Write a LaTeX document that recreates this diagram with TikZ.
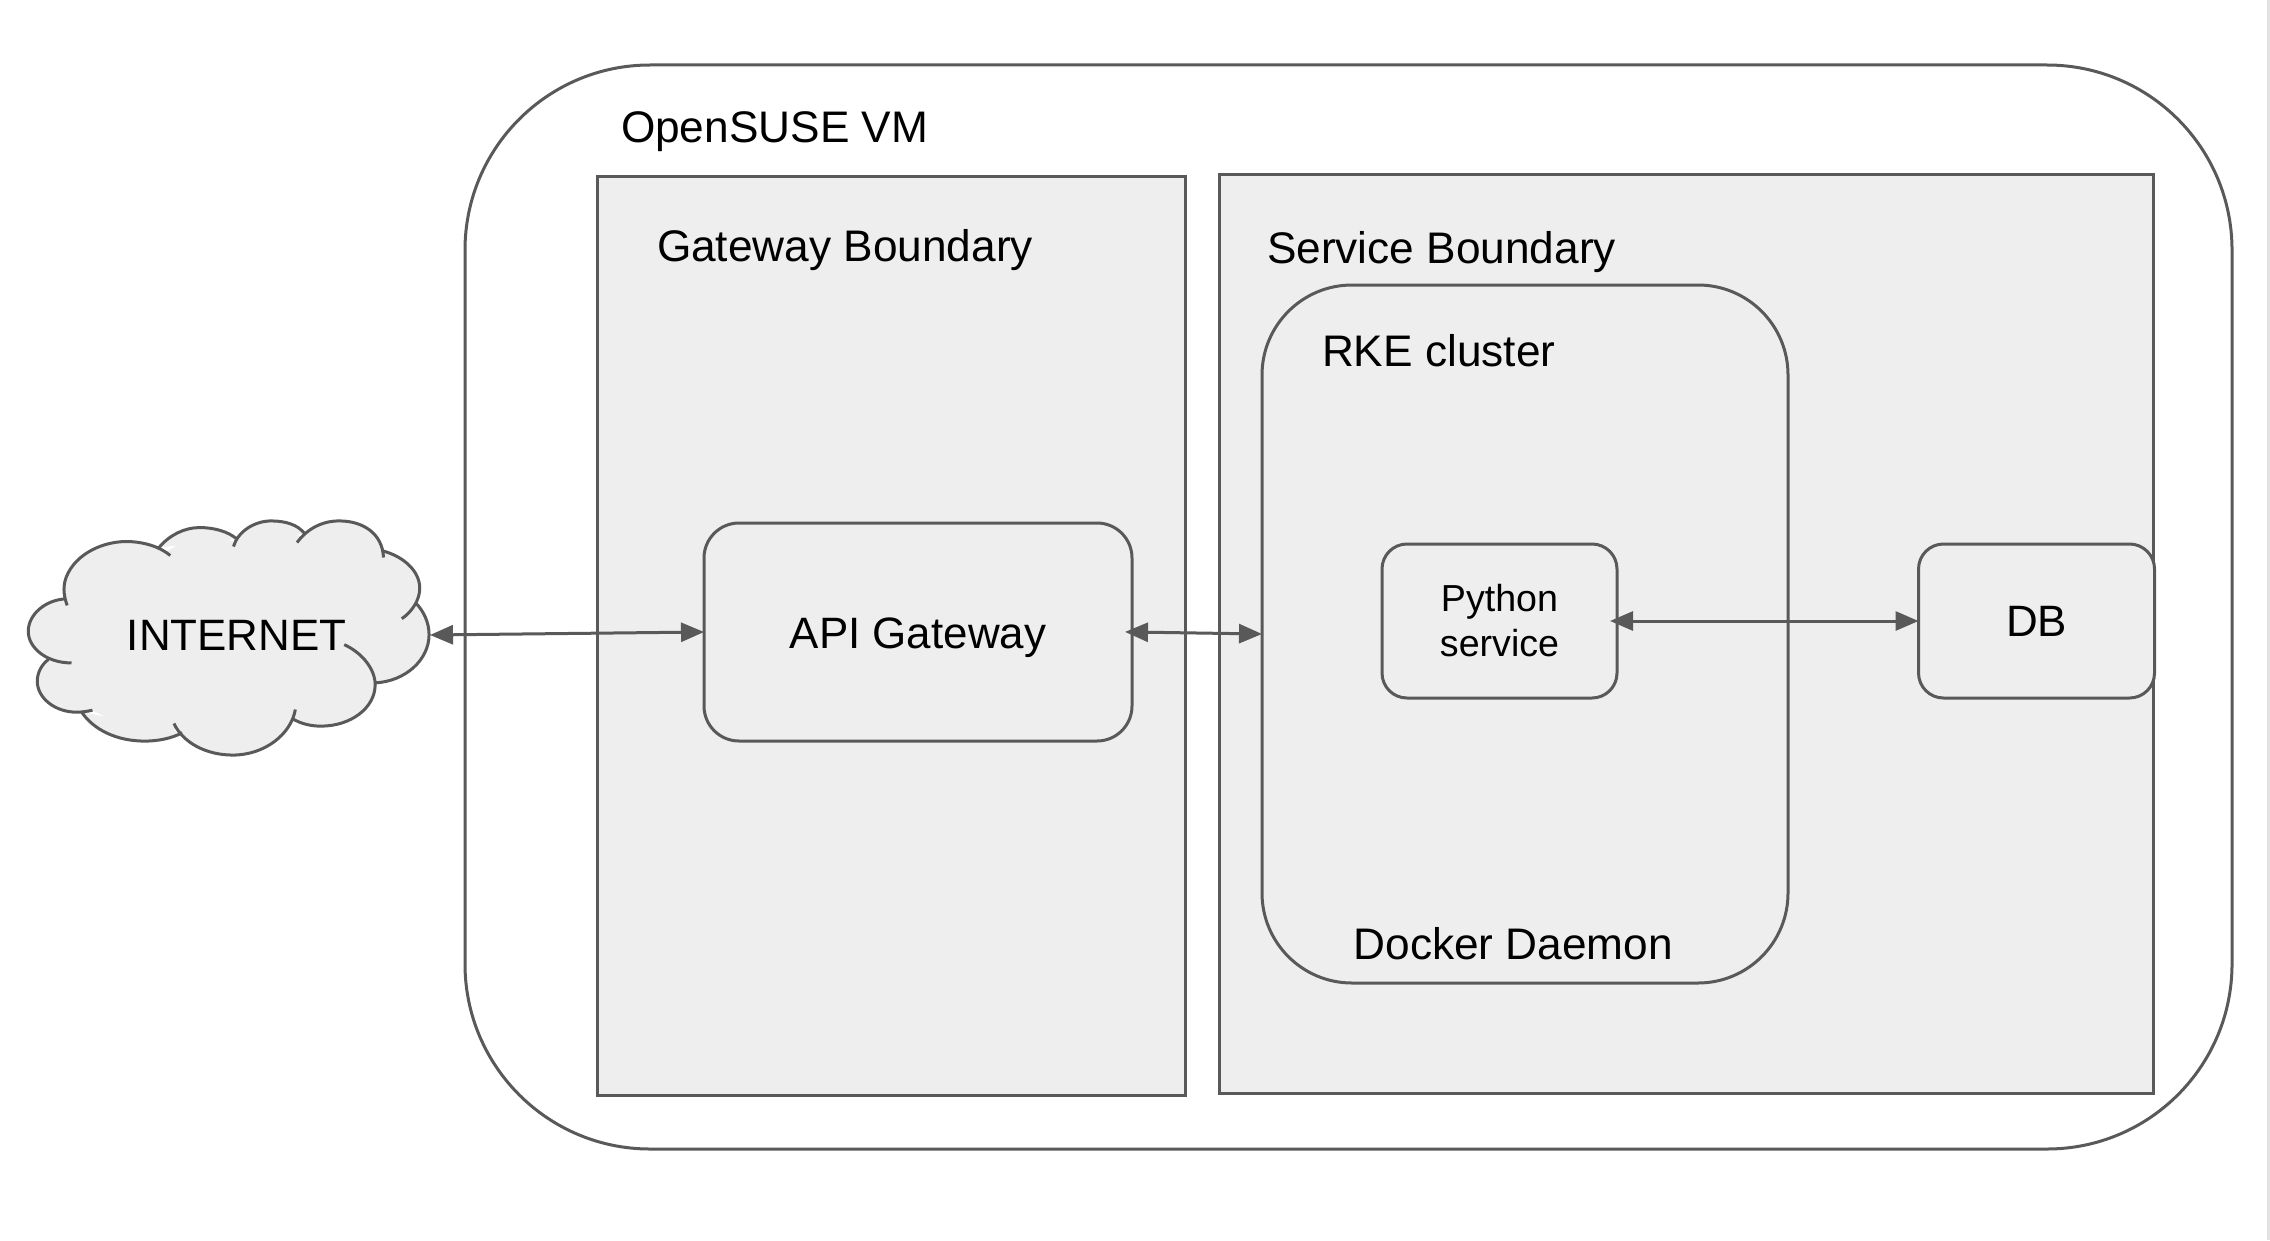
\documentclass[tikz,border=0pt]{standalone}
\usepackage{fontspec}
\setmainfont{Liberation Sans}
\usepackage{xcolor}
\usepackage{tikz}
\usetikzlibrary{
  arrows.meta,
  positioning
}
\definecolor{linecolor}{HTML}{595959}
\definecolor{boxcolor}{HTML}{EEEEEE}
\definecolor{edgecolor}{HTML}{E2E2E2}
% lobes of the cloud, in the coordinates of the cloud scope
\def\cloudlobes{
  (202,372) .. controls (192,345) and (190,320) .. (195,300) .. controls (215,225) and (300,180) .. (380,180) .. controls (430,180) and (480,195) .. (512,222)
  (478,198) .. controls (510,160) and (555,138) .. (600,138) .. controls (645,138) and (685,150) .. (712,172)
  (702,195) .. controls (715,150) and (765,118) .. (815,118) .. controls (860,118) and (895,130) .. (915,155)
  (893,183) .. controls (925,140) and (970,118) .. (1020,118) .. controls (1090,118) and (1150,155) .. (1153,228)
  (1150,208) .. controls (1215,225) and (1262,270) .. (1262,320) .. controls (1262,355) and (1240,390) .. (1208,412)
  (1250,365) .. controls (1275,390) and (1290,425) .. (1290,460) .. controls (1290,535) and (1220,600) .. (1128,605)
  (1035,490) .. controls (1090,515) and (1128,565) .. (1128,610) .. controls (1128,680) and (1055,735) .. (965,735) .. controls (935,735) and (905,728) .. (880,713)
  (888,685) .. controls (875,760) and (795,822) .. (700,822) .. controls (620,822) and (550,785) .. (523,727)
  (548,755) .. controls (515,772) and (475,780) .. (435,780) .. controls (350,780) and (280,745) .. (245,692)
  (278,687) .. controls (262,691) and (245,693) .. (230,693) .. controls (165,693) and (112,650) .. (112,600) .. controls (112,575) and (125,550) .. (145,535)
  (215,545) .. controls (140,545) and (85,500) .. (85,450) .. controls (85,400) and (135,355) .. (200,352)
}

\begin{document}
\begin{tikzpicture}[
  every node/.style={text=black, outer sep=0pt},
  zone/.style={draw=linecolor, line width=0.03cm, fill=boxcolor, inner sep=0pt},
  lbl/.style={font=\fontsize{12.58}{15}\selectfont, inner sep=0pt, anchor=west},
  txt/.style={font=\fontsize{12.5}{15}\selectfont, inner sep=0pt, align=center},
  biarrow/.style={{Triangle[length=0.23cm, width=0.19cm]}-{Triangle[length=0.23cm, width=0.19cm]},
                  draw=linecolor, fill=linecolor, line width=0.03cm},
]
  \useasboundingbox (0, 0) rectangle (22.7, 12.4);
  \draw[edgecolor, line width=0.03cm] (22.685, 0) -- (22.685, 12.4);

  \node[zone, fill=white, rounded corners=1.85cm, minimum width=17.67cm, minimum height=10.84cm] (vm) at (13.485, 6.33) {};
  \node[zone, minimum width=5.88cm, minimum height=9.19cm] (gateway) at (8.915, 6.045) {};
  \node[zone, minimum width=9.34cm, minimum height=9.19cm] (service) at (16.865, 6.065) {};
  \node[zone, rounded corners=0.9cm, minimum width=5.26cm, minimum height=6.98cm] (rke) at (15.25, 6.06) {};

  \node[zone, txt, text height=0.33cm, text depth=0pt, rounded corners=0.35cm, minimum width=4.28cm, minimum height=2.18cm] (apigw) at (9.18, 6.08) {API Gateway};
  \node[zone, txt, font=\fontsize{10.7}{12.8}\selectfont, rounded corners=0.25cm, minimum width=2.35cm, minimum height=1.54cm] (python) at (14.995, 6.19) {Python\\service};
  \node[zone, txt, rounded corners=0.25cm, minimum width=2.36cm, minimum height=1.54cm] (db) at (20.365, 6.19) {DB};

  % cloud
  \begin{scope}[x=0.0033333cm, y=-0.0033333cm, shift={(0, -2280)}]
    \fill[boxcolor] \cloudlobes
      (205,365) -- (380,195) -- (490,217) -- (600,150) -- (708,182) -- (815,130) -- (905,165)
      -- (1020,130) -- (1145,218) -- (1245,320) -- (1238,365) -- (1270,470) -- (1200,570)
      -- (1118,598) -- (1110,640) -- (965,720) -- (885,703) -- (700,805) -- (540,745)
      -- (435,765) -- (262,680) -- (130,600) -- (155,528) -- (100,450) -- cycle;
    \draw[linecolor, line width=0.03cm] \cloudlobes;
  \end{scope}
  \node[txt] (internet) at (2.367, 6.05) {INTERNET};
  \coordinate (cloudport) at (4.30, 6.05);

  \node[lbl] (vmlabel) at (6.21, 11.087) {OpenSUSE VM};
  \node[lbl] (gatewaylabel) at (6.57, 9.897) {Gateway Boundary};
  \node[lbl] (servicelabel) at (12.67, 9.88) {Service Boundary};
  \node[lbl] (rkelabel) at (13.22, 8.895) {RKE cluster};
  \node[lbl] (dockerlabel) at (13.535, 2.965) {Docker Daemon};

  \draw[biarrow] (cloudport) -- (apigw.west);
  \draw[biarrow, shorten <=-0.07cm] (apigw.east) -- (rke.west);
  \draw[biarrow, shorten <=-0.07cm] (python.east) -- (db.west);
\end{tikzpicture}
\end{document}
